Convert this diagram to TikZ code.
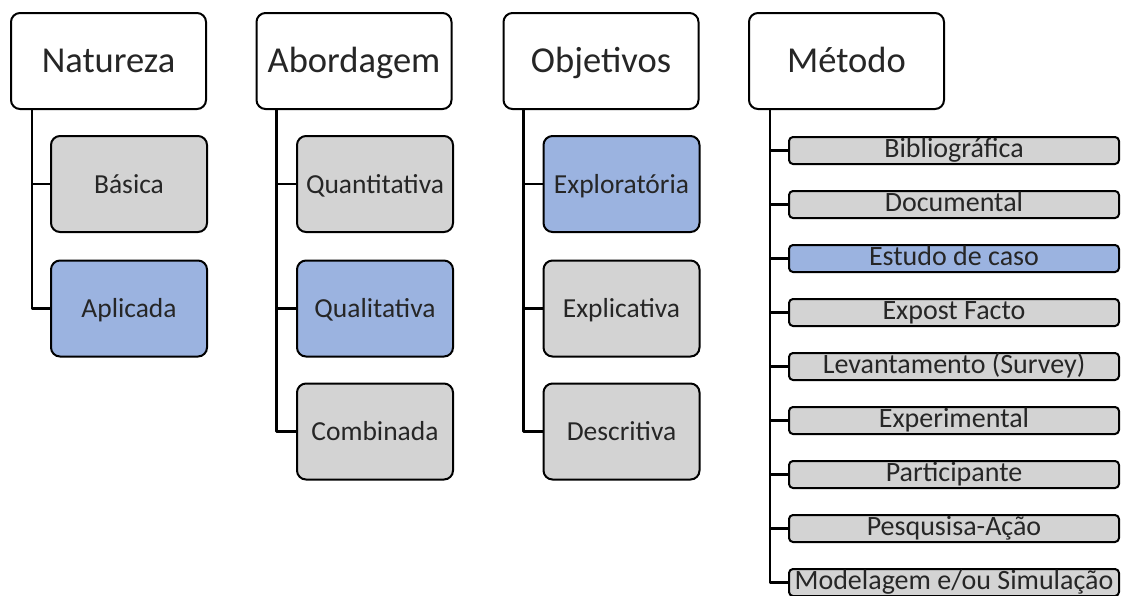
\documentclass[tikz,border=0pt]{standalone}
\usepackage{fontspec}
\setmainfont{Carlito}
\usepackage{tikz}

\definecolor{boxgray}{HTML}{D3D3D3}
\definecolor{boxblue}{HTML}{9BB3E0}
\definecolor{txtgray}{HTML}{262626}

\begin{document}
\begin{tikzpicture}[x=1pt, y=-1pt, line join=round,
  cat/.style={draw=black, line width=2pt, rounded corners=9pt, fill=white, text=txtgray,
    minimum width=195pt, minimum height=96pt, inner sep=0pt, text height=24pt, text depth=2pt,
    font=\fontsize{36.5}{40}\selectfont},
  sub/.style={cat, fill=boxgray, minimum width=156pt, minimum height=96pt, text height=20pt, text depth=2pt,
    font=\fontsize{27.5}{32}\selectfont},
  item/.style={draw=black, line width=2pt, rounded corners=4pt, fill=boxgray, text=txtgray,
    minimum width=330pt, minimum height=27pt, inner sep=0pt, text height=15pt, text depth=2pt,
    font=\fontsize{28}{30}\selectfont},
  chosen/.style={fill=boxblue},
  link/.style={draw=black, line width=2.4pt}]
\useasboundingbox (0,0) rectangle (1122,595);
% column heads
\node[cat] (nat) at (108.5,61) {Natureza};
\node[cat] (abo) at (354,61) {Abordagem};
\node[cat] (obj) at (601,61) {Objetivos};
\node[cat] (met) at (846.5,61) {Método};
% natureza
\node[sub] (bas) at (129,184) {Básica};
\node[sub, chosen] (apl) at (129,308.5) {Aplicada};
\draw[link] ([xshift=22pt]nat.south west) |- (bas.west);
\draw[link] ([xshift=22pt]nat.south west) |- (apl.west);
% abordagem
\node[sub] (qua) at (375,184) {Quantitativa};
\node[sub, chosen] (qul) at (375,308.5) {Qualitativa};
\node[sub] (com) at (375,431.5) {Combinada};
\draw[link] ([xshift=21pt]abo.south west) |- (qua.west);
\draw[link] ([xshift=21pt]abo.south west) |- (qul.west);
\draw[link] ([xshift=21pt]abo.south west) |- (com.west);
% objetivos
\node[sub, chosen] (exp) at (621.5,184) {Exploratória};
\node[sub] (exl) at (621.5,308.5) {Explicativa};
\node[sub] (des) at (621.5,431.5) {Descritiva};
\draw[link] ([xshift=21pt]obj.south west) |- (exp.west);
\draw[link] ([xshift=21pt]obj.south west) |- (exl.west);
\draw[link] ([xshift=21pt]obj.south west) |- (des.west);
% metodo
\node[item] (bib) at (954,150.5) {Bibliográfica};
\node[item] (doc) at (954,204.5) {Documental};
\node[item, chosen] (est) at (954,258.5) {Estudo de caso};
\node[item] (epf) at (954,312.5) {Expost Facto};
\node[item] (lev) at (954,366.5) {Levantamento (Survey)};
\node[item] (epr) at (954,420.5) {Experimental};
\node[item] (par) at (954,474.5) {Participante};
\node[item] (pea) at (954,528.5) {Pesqusisa-Ação};
\node[item] (mod) at (954,582.5) {Modelagem e/ou Simulação};
\draw[link] ([xshift=22pt]met.south west) |- (bib.west);
\draw[link] ([xshift=22pt]met.south west) |- (doc.west);
\draw[link] ([xshift=22pt]met.south west) |- (est.west);
\draw[link] ([xshift=22pt]met.south west) |- (epf.west);
\draw[link] ([xshift=22pt]met.south west) |- (lev.west);
\draw[link] ([xshift=22pt]met.south west) |- (epr.west);
\draw[link] ([xshift=22pt]met.south west) |- (par.west);
\draw[link] ([xshift=22pt]met.south west) |- (pea.west);
\draw[link] ([xshift=22pt]met.south west) |- (mod.west);
\end{tikzpicture}
\end{document}
